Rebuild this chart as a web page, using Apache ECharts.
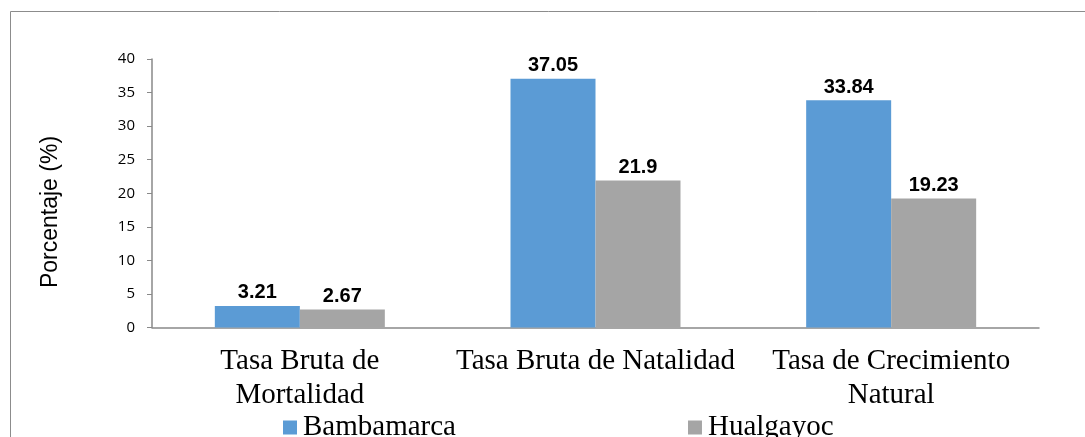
<!DOCTYPE html>
<html>
<head>
<meta charset="utf-8">
<script src="https://cdn.jsdelivr.net/npm/echarts@6/dist/echarts.min.js"></script>
<style>
html,body{margin:0;padding:0;background:#fff;}
#chart{width:1085px;height:437px;}
</style>
</head>
<body>
<div id="chart"></div>
<script>
const categories = ["Tasa Bruta de\nMortalidad", "Tasa Bruta de Natalidad", "Tasa de Crecimiento\nNatural"];
const seriesNames = ["Bambamarca", "Hualgayoc"];
const bambamarca = [3.21, 37.05, 33.84];
const hualgayoc = [2.67, 21.9, 19.23];
const yTicks = [0, 5, 10, 15, 20, 25, 30, 35, 40];
const yAxisTitle = "Porcentaje (%)";

const chart = echarts.init(document.getElementById('chart'));
const labelStyle = {
  show: true, position: 'top', distance: 3,
  fontFamily: 'Liberation Sans, Arial, sans-serif', fontWeight: 'bold', fontSize: 20, color: '#000'
};
chart.setOption({
  animation: false,
  backgroundColor: '#fff',
  graphic: [
    { type: 'rect', shape: { x: 10.5, y: 11.5, width: 1200, height: 600 },
      style: { fill: 'none', stroke: '#8c8c8c', lineWidth: 1 }, silent: true, z: -1 },
    { type: 'text', x: 51, y: 212, rotation: Math.PI / 2,
      style: { text: yAxisTitle, fontFamily: 'Liberation Sans, Arial, sans-serif', fontSize: 23,
               fill: '#000', align: 'center', verticalAlign: 'middle' } }
  ],
  grid: { left: 152, right: 46, top: 59, bottom: 109.5, containLabel: false },
  legend: {
    data: seriesNames, left: 278, top: 408, itemWidth: 14, itemHeight: 14, itemGap: 232,
    icon: 'rect',
    textStyle: { fontFamily: 'Liberation Serif, Times New Roman, serif', fontSize: 29, color: '#000', padding: [0,0,0,1] }
  },
  xAxis: {
    type: 'category', data: categories,
    axisLine: { lineStyle: { color: '#898989', width: 1.5 } },
    axisTick: { show: false },
    axisLabel: { interval: 0, margin: 17, lineHeight: 34,
      fontFamily: 'Liberation Serif, Times New Roman, serif', fontSize: 29, color: '#000' }
  },
  yAxis: {
    type: 'value', min: yTicks[0], max: yTicks[yTicks.length - 1], interval: 5,
    axisLine: { show: true, lineStyle: { color: '#898989', width: 1.5 } },
    axisTick: { show: true, length: 5, lineStyle: { color: '#898989' } },
    splitLine: { show: false },
    axisLabel: { margin: 17, fontFamily: 'Open Sans, sans-serif', fontSize: 15, color: '#000' }
  },
  series: [
    { name: seriesNames[0], type: 'bar', data: bambamarca, barWidth: 85, barGap: '0%',
      itemStyle: { color: '#5B9BD5' }, label: labelStyle },
    { name: seriesNames[1], type: 'bar', data: hualgayoc, barWidth: 85, barGap: '0%',
      itemStyle: { color: '#A5A5A5' }, label: labelStyle }
  ]
});
</script>
</body>
</html>
